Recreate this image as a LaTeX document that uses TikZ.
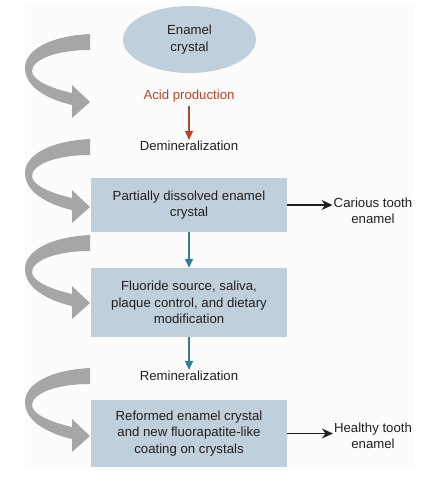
\documentclass[tikz,border=0pt]{standalone}
\usepackage{fontspec}
\setmainfont{Liberation Sans}
\usetikzlibrary{shapes.geometric,arrows.meta}
\definecolor{boxfill}{HTML}{BFD0DC}
\definecolor{arrgray}{HTML}{A4A6A8}
\definecolor{tealc}{HTML}{2F7F96}
\definecolor{redc}{HTML}{B5452A}
\definecolor{txt}{HTML}{231F20}
\definecolor{panel}{HTML}{FCFCFC}
\tikzset{
  every node/.style={font=\fontsize{13.2}{16.3}\selectfont, text=txt, align=center},
  stepbox/.style={rectangle, fill=boxfill, draw=none, minimum width=196pt, inner sep=0pt},
  plainlbl/.style={inner sep=1pt},
  tealarrow/.style={draw=tealc, line width=1.3pt, -{Triangle[width=8pt,length=9pt]}},
  redarrow/.style={draw=redc, line width=1.3pt, -{Triangle[width=8pt,length=9pt]}},
  blackarrow/.style={draw=txt, line width=1.3pt, -{Stealth[width=10pt,length=11pt]}},
  grayarrow/.style={fill=arrgray, draw=none}
}
\begin{document}
\begin{tikzpicture}[x=1pt,y=-1pt]
\useasboundingbox (0,0) rectangle (436,483);
\fill[panel] (25,5) rectangle (414,467);
% gray curved arrows
\foreach \s in {0,105,201,334}{
  \begin{scope}[shift={(0,\s)}]
  \fill[grayarrow] (90,34) .. controls (50,36) and (25,50) .. (25,68)
    .. controls (25,88) and (50,100) .. (72,105) -- (72,118) -- (90,102) -- (72,85) -- (72,93)
    .. controls (50,88) and (32,80) .. (32,71)
    .. controls (32,60) and (55,50) .. (90,50) -- cycle;
  \end{scope}
}
\node[ellipse, fill=boxfill, minimum width=133pt, minimum height=67pt, inner sep=0pt] (ell) at (189.5,39.5) {Enamel\\crystal};
\node[plainlbl, text=redc] (acid) at (189,96) {Acid production};
\node[plainlbl] (demin) at (189,146) {Demineralization};
\node[stepbox, minimum height=54pt] (b1) at (189,205) {Partially dissolved enamel\\crystal};
\node[plainlbl] (car) at (373,211) {Carious tooth\\enamel};
\node[stepbox, minimum height=69pt] (b2) at (189,302.5) {Fluoride source, saliva,\\plaque control, and dietary\\modification};
\node[plainlbl] (remin) at (189,376) {Remineralization};
\node[stepbox, minimum height=67pt] (b3) at (189,433.5) {Reformed enamel crystal\\and new fluorapatite-like\\coating on crystals};
\node[plainlbl] (hea) at (373,436) {Healthy tooth\\enamel};
\draw[redarrow] (acid.south) ++(0,3) coordinate (a0) (a0) -- (demin.north);
\draw[tealarrow] (b1.south) -- (b2.north);
\draw[tealarrow] (b2.south) -- (remin.north);
\draw[blackarrow] (b1.east) -- (car.west |- b1.east);
\draw[blackarrow] (b3.east) -- (hea.west |- b3.east);
\end{tikzpicture}
\end{document}
